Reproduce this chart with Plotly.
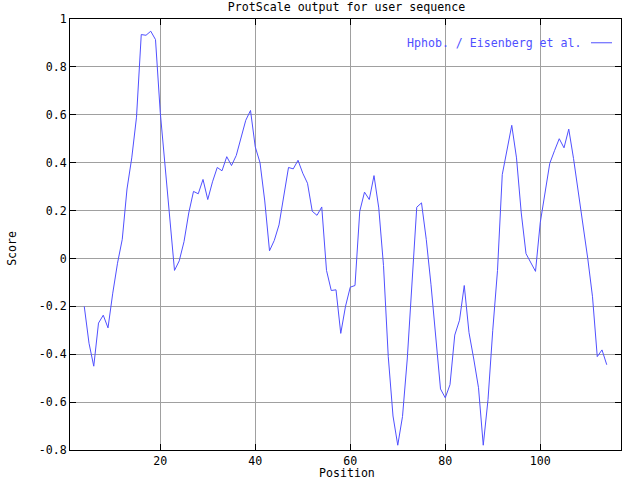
import plotly.graph_objects as go

# ---- data ----
positions = list(range(4, 115))
scores = [
    -0.20, -0.354, -0.45, -0.27, -0.237, -0.29, -0.145, -0.02, 0.08, 0.29,   # 4-13
    0.42, 0.59, 0.935, 0.932, 0.949, 0.914, 0.61, 0.39, 0.14, -0.05,         # 14-23
    -0.01, 0.07, 0.19, 0.28, 0.27, 0.33, 0.246, 0.32, 0.38, 0.366,           # 24-33
    0.425, 0.388, 0.43, 0.50, 0.577, 0.618, 0.466, 0.40, 0.24, 0.032,        # 34-43
    0.075, 0.14, 0.26, 0.38, 0.374, 0.41, 0.356, 0.314, 0.197, 0.18,         # 44-53
    0.215, -0.05, -0.134, -0.131, -0.313, -0.2, -0.12, -0.113, 0.197, 0.277, # 54-63
    0.246, 0.346, 0.211, -0.03, -0.41, -0.658, -0.78, -0.66, -0.42, -0.08,   # 64-73
    0.214, 0.232, 0.08, -0.11, -0.32, -0.545, -0.582, -0.527, -0.32, -0.258, # 74-83
    -0.113, -0.31, -0.42, -0.54, -0.78, -0.59, -0.3, -0.05, 0.35, 0.453,     # 84-93
    0.556, 0.42, 0.19, 0.02, -0.015, -0.054, 0.15, 0.266, 0.397, 0.45,       # 94-103
    0.50, 0.462, 0.54, 0.418, 0.28, 0.12, 0.0, -0.16, -0.41, -0.382,         # 104-113
    -0.444,                                                                  # 114
]
series_name = "Hphob. / Eisenberg et al."
title_text = "ProtScale output for user sequence"
x_label = "Position"
y_label = "Score"
x_tickvals = [20, 40, 60, 80, 100]
x_ticktext = ["20", "40", "60", "80", "100"]
y_tickvals = [-0.8, -0.6, -0.4, -0.2, 0, 0.2, 0.4, 0.6, 0.8, 1]
y_ticktext = ["-0.8", "-0.6", "-0.4", "-0.2", "0", "0.2", "0.4", "0.6", "0.8", "1"]

# ---- style ----
FONT = "DejaVu Sans Mono"
FS = 11.6
BLUE = "rgb(80,80,255)"
L, R, T, B = 70, 19, 16, 29
W, H = 640, 480
pw, ph = W - L - R, H - T - B

def px_to_paper_x(px):
    return (px - L) / pw

def py_to_paper_y(py):
    return (H - B - py) / ph

fig = go.Figure()
fig.add_trace(go.Scatter(
    x=positions, y=scores, mode="lines",
    line=dict(color=BLUE, width=1),
    name=series_name, showlegend=False, hoverinfo="skip",
))

axis_common = dict(
    showline=True, linecolor="black", linewidth=1, mirror="allticks",
    ticks="inside", ticklen=6, tickcolor="black", tickwidth=1,
    showgrid=True, gridcolor="#a0a0a0", gridwidth=1,
    zeroline=False,
    tickfont=dict(family=FONT, size=FS, color="black"),
)

fig.update_layout(
    width=W, height=H,
    margin=dict(l=L, r=R, t=T, b=B, pad=0),
    paper_bgcolor="white", plot_bgcolor="white",
    title=dict(text=title_text, x=346.5 / W, xanchor="center",
               y=1 - 7 / H, yanchor="middle", yref="container",
               font=dict(family=FONT, size=FS, color="black")),
    xaxis=dict(range=[1, 117], tickvals=x_tickvals, ticktext=x_ticktext, **axis_common),
    yaxis=dict(range=[-0.8, 1], tickvals=y_tickvals, ticktext=y_ticktext, **axis_common),
    showlegend=False,
)

fig.add_annotation(text=x_label, xref="paper", yref="paper",
                   x=px_to_paper_x(347), y=py_to_paper_y(474),
                   xanchor="center", yanchor="middle", showarrow=False,
                   font=dict(family=FONT, size=FS, color="black"))
fig.add_annotation(text=y_label, xref="paper", yref="paper",
                   x=px_to_paper_x(12), y=py_to_paper_y(248),
                   xanchor="center", yanchor="middle", textangle=-90, showarrow=False,
                   font=dict(family=FONT, size=FS, color="black"))
# legend entry (text left of sample line, as in the reference)
fig.add_annotation(text=series_name, xref="paper", yref="paper",
                   x=px_to_paper_x(584), y=py_to_paper_y(40),
                   xanchor="right", yanchor="middle", showarrow=False,
                   font=dict(family=FONT, size=FS, color=BLUE))
fig.add_shape(type="line", xref="paper", yref="paper",
              x0=px_to_paper_x(591), x1=px_to_paper_x(612),
              y0=py_to_paper_y(40), y1=py_to_paper_y(40),
              line=dict(color=BLUE, width=1))

# remove the default page margin so the 640x480 figure fills the window exactly
fig.write_html("out.html",
               config={"displayModeBar": False},
               post_script="document.body.style.margin='0';document.body.style.overflow='hidden';")
